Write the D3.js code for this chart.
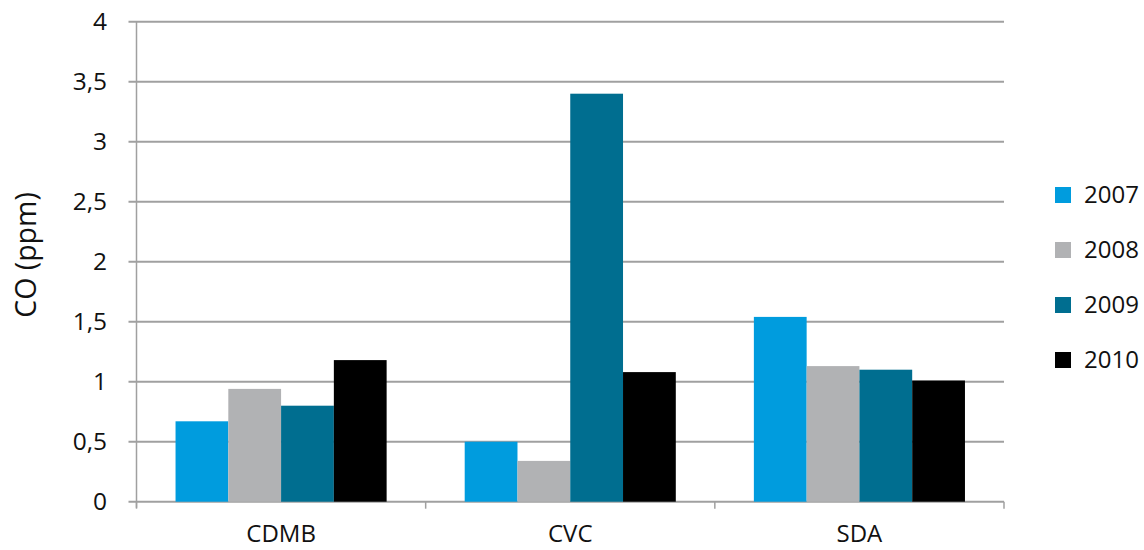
<!DOCTYPE html>
<html><head><meta charset="utf-8">
<script src="https://cdn.jsdelivr.net/npm/d3@7"></script>
<style>body{margin:0;background:#fff;} text{font-family:"Open Sans","Noto Sans",sans-serif;fill:#111;}</style>
</head><body>
<svg id="c" width="1144" height="550"></svg>
<script>
const categories = ["CDMB", "CVC", "SDA"];
const years = ["2007", "2008", "2009", "2010"];
const v2007 = [0.67, 0.50, 1.54];
const v2008 = [0.94, 0.34, 1.13];
const v2009 = [0.80, 3.40, 1.10];
const v2010 = [1.18, 1.08, 1.01];
const yTicks = [0, 0.5, 1, 1.5, 2, 2.5, 3, 3.5, 4];
const colors = ["#009cde", "#b1b2b4", "#006e90", "#000000"];
const seriesVals = [v2007, v2008, v2009, v2010];

const svg = d3.select("#c");
const pL = 136.5, pR = 1004, pT = 21.7, pB = 501.7;
const y = d3.scaleLinear().domain([0, 4]).range([pB, pT]);
const x = d3.scaleBand().domain(categories).range([pL, pR]).paddingInner(0.27).paddingOuter(0.135);
const xs = d3.scaleBand().domain(years).range([0, x.bandwidth()]);
const grid = "#a0a0a0";

// gridlines
svg.append("g").selectAll("line").data(yTicks).join("line")
  .attr("x1", pL - 8).attr("x2", pR).attr("y1", d => y(d)).attr("y2", d => y(d))
  .attr("stroke", grid).attr("stroke-width", 2);

// y axis line
svg.append("line").attr("x1", pL).attr("x2", pL).attr("y1", pT).attr("y2", pB + 6)
  .attr("stroke", grid).attr("stroke-width", 1.5);

// y tick labels
svg.append("g").selectAll("text").data(yTicks).join("text")
  .attr("x", 107).attr("y", d => y(d)).attr("dy", "0.35em").attr("text-anchor", "end")
  .attr("font-size", 24.5).text(d => String(d).replace(".", ","));

// bars
const g = svg.append("g");
categories.forEach((c, ci) => {
  years.forEach((yr, si) => {
    g.append("rect")
      .attr("x", x(c) + xs(yr)).attr("width", xs.bandwidth())
      .attr("y", y(seriesVals[si][ci])).attr("height", pB - y(seriesVals[si][ci]))
      .attr("fill", colors[si]);
  });
});

// x boundary ticks
const step = x.step();
const bounds = [pL, pL + step, pL + 2 * step, pR];
svg.append("g").selectAll("line").data(bounds).join("line")
  .attr("x1", d => d).attr("x2", d => d).attr("y1", pB).attr("y2", pB + 7)
  .attr("stroke", grid).attr("stroke-width", 1.5);

// x labels
svg.append("g").selectAll("text").data(categories).join("text")
  .attr("x", d => x(d) + x.bandwidth() / 2).attr("y", 534).attr("dy", "0.35em")
  .attr("text-anchor", "middle").attr("font-size", 24).text(d => d);

// y title
svg.append("text").attr("transform", "translate(26,255) rotate(-90)")
  .attr("text-anchor", "middle").attr("dy", "0.35em").attr("font-size", 28.5).text("CO (ppm)");

// legend
const lg = svg.append("g").selectAll("g").data(years).join("g")
  .attr("transform", (d, i) => `translate(1055,${195 + i * 55})`);
lg.append("rect").attr("x", 0).attr("y", -8).attr("width", 16).attr("height", 16)
  .attr("fill", (d, i) => colors[i]);
lg.append("text").attr("x", 29).attr("y", 0).attr("dy", "0.35em").attr("font-size", 24).text(d => d);
</script>
</body></html>
